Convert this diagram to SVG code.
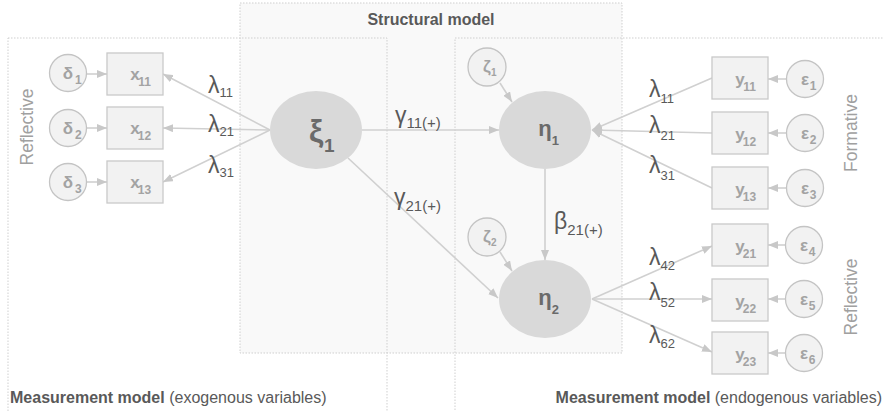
<svg xmlns="http://www.w3.org/2000/svg" width="884" height="411" viewBox="0 0 884 411">
<defs>
<style>
.panel{fill:none;stroke:#cfcfcf;stroke-width:1;stroke-dasharray:1.5 1.5}
.box{fill:#f2f2f2;stroke:#c9c9c9;stroke-width:1.3}
.err{fill:#f2f2f2;stroke:#c4c4c4;stroke-width:1.3}
.lat{fill:#d9d9d9;stroke:none}
.ln{stroke:#d0d0d0;stroke-width:1.6;fill:none;marker-end:url(#ah)}
.nl{font-family:"Liberation Sans",Arial,sans-serif;font-weight:bold;fill:#a3a3a3;font-size:17px;text-anchor:middle}
.ns{font-size:12px}
.gl{font-family:"Liberation Sans",Arial,sans-serif;fill:#595959;font-size:23px}
.sub{font-size:13px}
.side{font-family:"Liberation Sans",Arial,sans-serif;fill:#a0a0a0;font-size:17.5px;text-anchor:middle}
.cap{font-family:"Liberation Sans",Arial,sans-serif;fill:#595959;font-size:16px}
.lv{font-family:"Liberation Sans",Arial,sans-serif;font-weight:bold;fill:#6a6a6a;text-anchor:middle}
</style>
<marker id="ah" viewBox="0 0 10 8" refX="10" refY="4" markerWidth="10" markerHeight="8" markerUnits="userSpaceOnUse" orient="auto">
<path d="M0,0 L10,4 L0,8 z" fill="#c8c8c8"/>
</marker>
</defs>
<rect width="884" height="411" fill="#ffffff"/>
<g id="panels">
<rect x="240" y="3" width="382" height="350" fill="#f9f9f9" stroke="none"/>
<rect class="panel" x="240" y="3" width="382" height="350"/>
<rect class="panel" x="8" y="38" width="379" height="400"/>
<rect class="panel" x="455" y="38" width="440" height="400"/>
<text class="cap" x="431" y="25" text-anchor="middle" font-weight="bold">Structural model</text>
<text class="cap" x="10" y="403"><tspan font-weight="bold">Measurement model</tspan> (exogenous variables)</text>
<text class="cap" x="882" y="403" text-anchor="end"><tspan font-weight="bold">Measurement model</tspan> (endogenous variables)</text>
<text class="side" transform="translate(33,127) rotate(-90)">Reflective</text>
<text class="side" transform="translate(857,133) rotate(-90)">Formative</text>
<text class="side" transform="translate(857,297) rotate(-90)">Reflective</text>
</g>
<g id="connectors">
<line class="ln" x1="87" y1="74" x2="107" y2="74"/>
<line class="ln" x1="87" y1="128" x2="107" y2="128"/>
<line class="ln" x1="87" y1="182" x2="107" y2="182"/>
<line class="ln" x1="270" y1="130" x2="163" y2="74"/>
<line class="ln" x1="270" y1="130" x2="163" y2="128"/>
<line class="ln" x1="270" y1="130" x2="163" y2="182"/>
<line class="ln" x1="362" y1="130" x2="499" y2="130"/>
<line class="ln" x1="348" y1="158" x2="498" y2="298"/>
<line class="ln" x1="545" y1="169" x2="545" y2="260"/>
<line class="ln" x1="500" y1="83" x2="512" y2="102"/>
<line class="ln" x1="500" y1="252" x2="512" y2="271"/>
<line class="ln" x1="712" y1="78" x2="592" y2="130"/>
<line class="ln" x1="712" y1="133" x2="592" y2="130"/>
<line class="ln" x1="712" y1="188" x2="592" y2="130"/>
<line class="ln" x1="786" y1="79" x2="768" y2="79"/>
<line class="ln" x1="786" y1="133" x2="768" y2="133"/>
<line class="ln" x1="786" y1="188" x2="768" y2="188"/>
<line class="ln" x1="592" y1="299" x2="712" y2="246"/>
<line class="ln" x1="592" y1="299" x2="712" y2="299"/>
<line class="ln" x1="592" y1="299" x2="712" y2="352"/>
<line class="ln" x1="785" y1="245" x2="768" y2="245"/>
<line class="ln" x1="785" y1="299" x2="768" y2="299"/>
<line class="ln" x1="785" y1="353" x2="768" y2="353"/>
<text class="gl" x="208" y="93">λ<tspan class="sub" y="97">11</tspan></text>
<text class="gl" x="208" y="132">λ<tspan class="sub" y="136">21</tspan></text>
<text class="gl" x="208" y="173">λ<tspan class="sub" y="177">31</tspan></text>
<text class="gl" x="649" y="97">λ<tspan class="sub" y="103">11</tspan></text>
<text class="gl" x="649" y="133">λ<tspan class="sub" y="140">21</tspan></text>
<text class="gl" x="649" y="173">λ<tspan class="sub" y="180">31</tspan></text>
<text class="gl" x="649" y="265">λ<tspan class="sub" y="270">42</tspan></text>
<text class="gl" x="649" y="300">λ<tspan class="sub" y="307">52</tspan></text>
<text class="gl" x="649" y="343">λ<tspan class="sub" y="348">62</tspan></text>
<text class="gl" x="395" y="123">γ<tspan font-size="15" y="128">11(+)</tspan></text>
<text class="gl" x="394" y="205">γ<tspan font-size="15" y="211">21(+)</tspan></text>
<text class="gl" x="554" y="229">β<tspan font-size="15" y="235">21(+)</tspan></text>
</g>
<g id="xi1"><ellipse class="lat" cx="316" cy="130" rx="46" ry="39"/><text class="lv" x="316" y="142" font-size="32" fill="#6e6e6e">ξ<tspan font-size="19" y="152" dx="-1">1</tspan></text></g>
<g id="eta1"><ellipse class="lat" cx="545" cy="130" rx="46" ry="39"/><text class="lv" x="545" y="136" font-size="22">η<tspan font-size="13" y="145" dx="-3">1</tspan></text></g>
<g id="eta2"><ellipse class="lat" cx="545" cy="299" rx="46" ry="39"/><text class="lv" x="545" y="305" font-size="22">η<tspan font-size="13" y="314" dx="-3">2</tspan></text></g>
<g id="zeta1"><circle class="err" cx="487" cy="67" r="19"/><text class="nl" x="487" y="72" font-size="16">ζ<tspan font-size="10" y="76" dx="-1">1</tspan></text></g>
<g id="zeta2"><circle class="err" cx="487" cy="237" r="19"/><text class="nl" x="487" y="242" font-size="16">ζ<tspan font-size="10" y="246" dx="-1">2</tspan></text></g>
<g id="delta1"><circle class="err" cx="68" cy="73" r="18.5"/><text class="nl" x="68" y="79">δ<tspan class="ns" y="84">1</tspan></text></g>
<g id="delta2"><circle class="err" cx="68" cy="128" r="18.5"/><text class="nl" x="68" y="134">δ<tspan class="ns" y="139">2</tspan></text></g>
<g id="delta3"><circle class="err" cx="68" cy="182" r="18.5"/><text class="nl" x="68" y="188">δ<tspan class="ns" y="193">3</tspan></text></g>
<g id="x11"><rect class="box" x="107" y="53" width="56" height="42"/><text class="nl" x="135" y="80">x<tspan class="ns" y="86">11</tspan></text></g>
<g id="x12"><rect class="box" x="107" y="107" width="56" height="42"/><text class="nl" x="135" y="134">x<tspan class="ns" y="140">12</tspan></text></g>
<g id="x13"><rect class="box" x="107" y="161" width="56" height="42"/><text class="nl" x="135" y="188">x<tspan class="ns" y="194">13</tspan></text></g>
<g id="y11"><rect class="box" x="712" y="57" width="56" height="42"/><text class="nl" x="740" y="85">y<tspan class="ns" y="91">11</tspan></text></g>
<g id="y12"><rect class="box" x="712" y="112" width="56" height="42"/><text class="nl" x="740" y="140">y<tspan class="ns" y="146">12</tspan></text></g>
<g id="y13"><rect class="box" x="712" y="167" width="56" height="42"/><text class="nl" x="740" y="195">y<tspan class="ns" y="201">13</tspan></text></g>
<g id="y21"><rect class="box" x="712" y="224" width="56" height="42"/><text class="nl" x="740" y="252">y<tspan class="ns" y="258">21</tspan></text></g>
<g id="y22"><rect class="box" x="712" y="279" width="56" height="42"/><text class="nl" x="740" y="307">y<tspan class="ns" y="313">22</tspan></text></g>
<g id="y23"><rect class="box" x="712" y="332" width="56" height="42"/><text class="nl" x="740" y="360">y<tspan class="ns" y="366">23</tspan></text></g>
<g id="eps1"><circle class="err" cx="805" cy="79" r="18.5"/><text class="nl" x="805" y="85">ε<tspan class="ns" y="90">1</tspan></text></g>
<g id="eps2"><circle class="err" cx="805" cy="133" r="18.5"/><text class="nl" x="805" y="139">ε<tspan class="ns" y="144">2</tspan></text></g>
<g id="eps3"><circle class="err" cx="805" cy="188" r="18.5"/><text class="nl" x="805" y="194">ε<tspan class="ns" y="199">3</tspan></text></g>
<g id="eps4"><circle class="err" cx="804" cy="245" r="18.5"/><text class="nl" x="804" y="251">ε<tspan class="ns" y="256">4</tspan></text></g>
<g id="eps5"><circle class="err" cx="804" cy="299" r="18.5"/><text class="nl" x="804" y="305">ε<tspan class="ns" y="310">5</tspan></text></g>
<g id="eps6"><circle class="err" cx="804" cy="353" r="18.5"/><text class="nl" x="804" y="359">ε<tspan class="ns" y="364">6</tspan></text></g>
</svg>
